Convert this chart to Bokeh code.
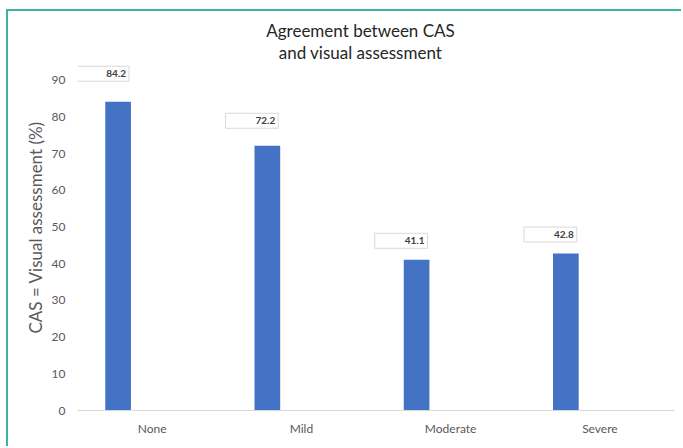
from bokeh.plotting import figure
from bokeh.models import FactorRange, Range1d, FixedTicker, Label, Title, ColumnDataSource
from bokeh.transform import dodge
from bokeh.embed import file_html
from bokeh.resources import INLINE
from bokeh.core.properties import value

categories = ["None", "Mild", "Moderate", "Severe"]
agreement = [84.2, 72.2, 41.1, 42.8]
value_labels = ["84.2", "72.2", "41.1", "42.8"]
y_ticks = [0, 10, 20, 30, 40, 50, 60, 70, 80, 90]
title_lines = ["Agreement between CAS", "and visual assessment"]
y_title = "CAS = Visual assessment (%)"
label_gap_px = [20, 17, 11, 11]

FONT = "Lato"
GREY = "#595959"
TEAL = "#3bb3a0"

src = ColumnDataSource(dict(cat=categories, val=agreement, lab=value_labels,
                            yoff=[-(g + 8) for g in label_gap_px]))

p = figure(x_range=FactorRange(*categories, range_padding=0),
           y_range=Range1d(0, 107.45),
           width=675, height=437, output_backend="svg", toolbar_location=None,
           min_border_left=69, min_border_right=9, min_border_top=5, min_border_bottom=38)
p.styles = {"border-top": "2px solid " + TEAL, "border-left": "2px solid " + TEAL,
            "margin-left": "6px", "margin-top": "9px"}
p.outline_line_color = None
p.grid.grid_line_color = None
p.background_fill_color = "white"
p.border_fill_color = "white"

p.vbar(x=dodge("cat", -0.228, range=p.x_range), top="val", width=0.172, source=src,
       fill_color="#4472C4", line_color=None)

p.text(x=dodge("cat", -0.155, range=p.x_range), y="val", text="lab", source=src,
       text_align="right", text_baseline="middle", y_offset="yoff",
       text_font=value(FONT), text_font_style="bold", text_font_size="10px",
       text_color="#404040", background_fill_color="white",
       border_line_color="#d9d9d9", padding=dict(left=30, right=3, top=4, bottom=4))

yax = p.yaxis[0]
yax.ticker = FixedTicker(ticks=y_ticks)
yax.axis_line_color = None
yax.major_tick_line_color = None
yax.minor_tick_line_color = None
yax.major_tick_out = 0
yax.major_tick_in = 0
yax.major_label_standoff = 12
yax.major_label_text_font = FONT
yax.major_label_text_font_size = "12px"
yax.major_label_text_color = GREY

p.add_layout(Title(text=y_title, align="left", offset=77, standoff=6,
                   text_font=FONT, text_font_size="17px", text_font_style="normal",
                   text_color=GREY), "left")

xax = p.xaxis[0]
xax.axis_line_color = "#d9d9d9"
xax.axis_line_width = 1
xax.major_tick_line_color = None
xax.minor_tick_line_color = None
xax.major_tick_out = 0
xax.major_tick_in = 0
xax.major_label_standoff = 10
xax.major_label_text_font = FONT
xax.major_label_text_font_size = "12px"
xax.major_label_text_color = GREY

for txt, yy in zip(title_lines, [380, 358]):
    p.add_layout(Label(x=283, y=yy, x_units="screen", y_units="screen", text=txt,
                       text_align="center", text_baseline="middle",
                       text_font=FONT, text_font_size="17px", text_color="#262626"))

open("out.html", "w").write(file_html(p, INLINE))
